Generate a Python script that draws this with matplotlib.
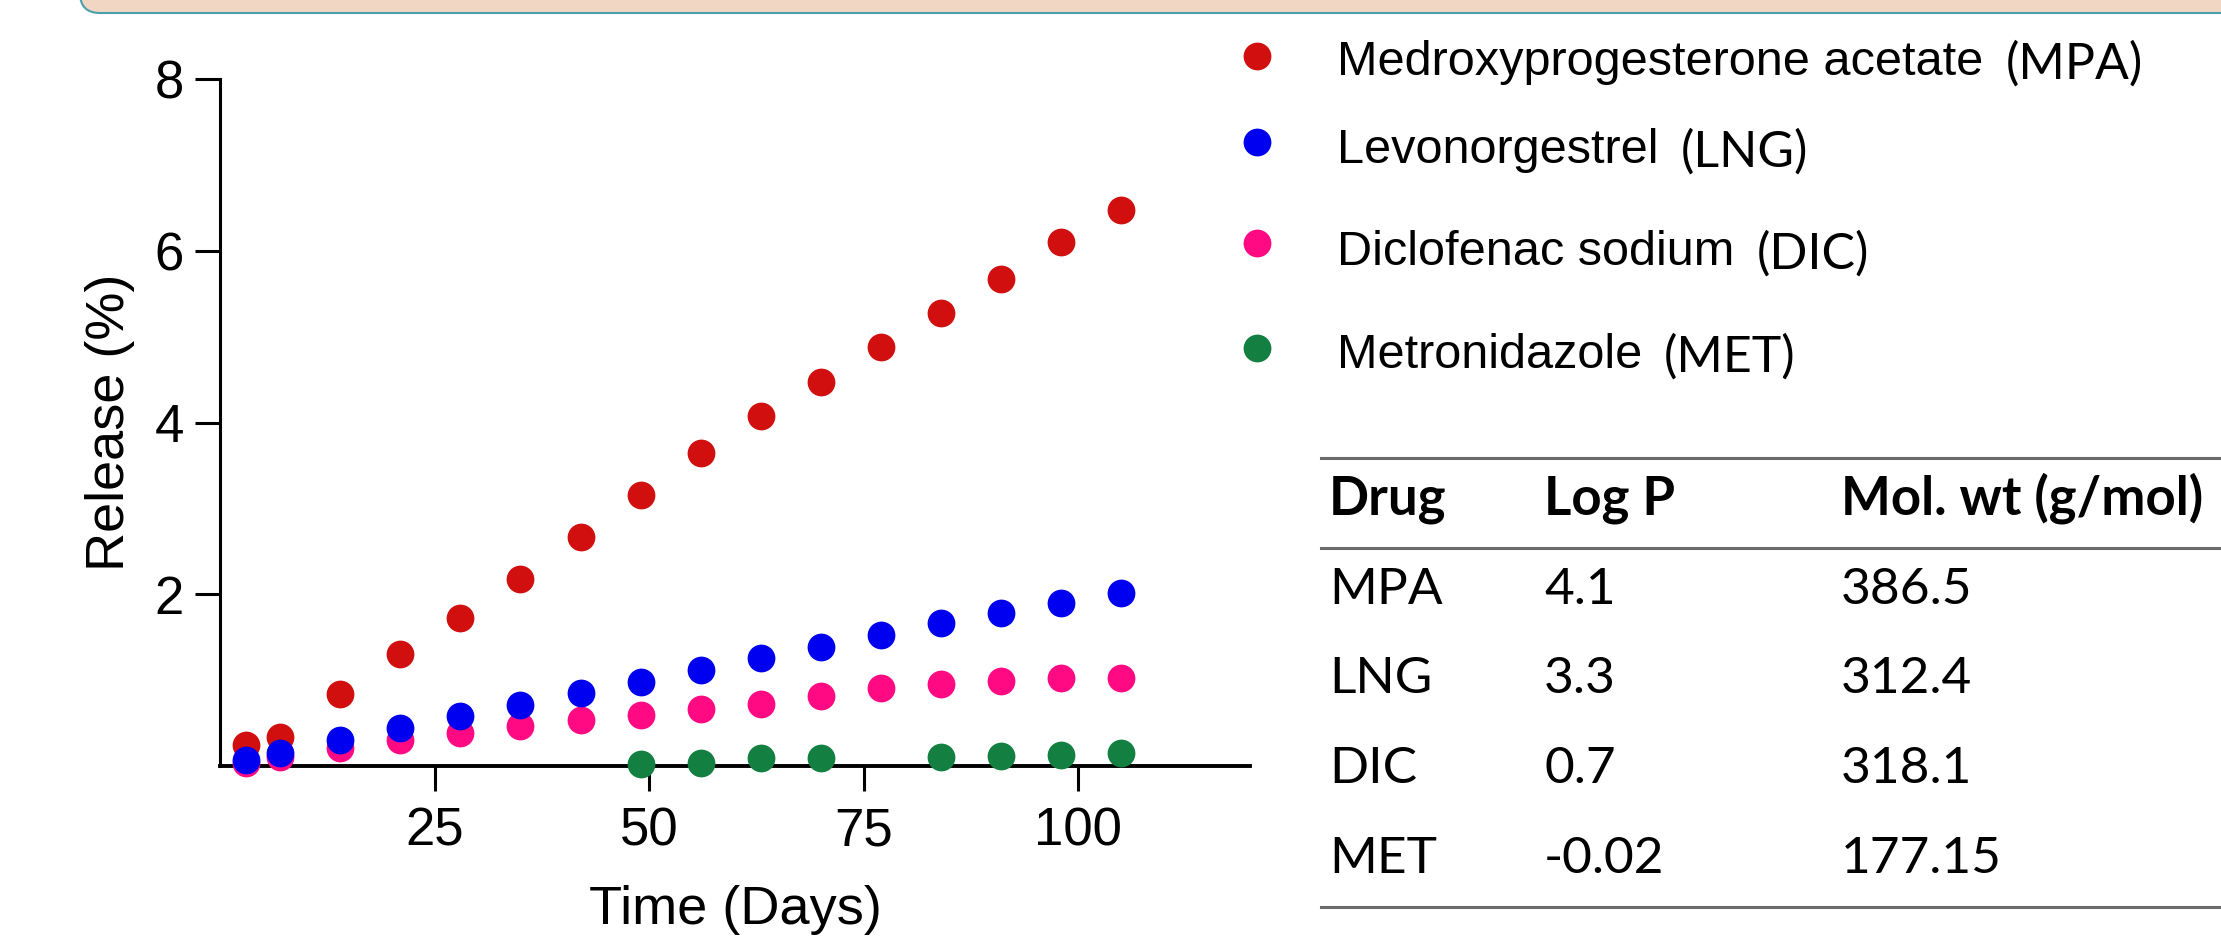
import numpy as np
import matplotlib.pyplot as plt
from matplotlib.lines import Line2D
from matplotlib.patches import FancyBboxPatch
from matplotlib.transforms import IdentityTransform

plt.rcParams['font.family'] = ['Liberation Sans', 'DejaVu Sans']

# release data (% released vs day)
days = [3, 7, 14, 21, 28, 35, 42, 49, 56, 63, 70, 77, 84, 91, 98, 105]
mpa = [0.25, 0.34, 0.84, 1.31, 1.72, 2.18, 2.67, 3.15, 3.65, 4.07, 4.47, 4.88, 5.28, 5.67, 6.10, 6.48]
lng = [0.07, 0.15, 0.30, 0.44, 0.58, 0.71, 0.85, 0.98, 1.12, 1.26, 1.39, 1.53, 1.66, 1.78, 1.90, 2.01]
dic = [0.03, 0.10, 0.21, 0.30, 0.38, 0.46, 0.53, 0.59, 0.66, 0.72, 0.82, 0.91, 0.96, 0.99, 1.03, 1.03]
nan = np.nan
met = [nan, nan, nan, nan, nan, nan, nan, 0.02, 0.04, 0.09, 0.09, nan, 0.11, 0.12, 0.13, 0.15]

drug_names = ["Medroxyprogesterone acetate", "Levonorgestrel", "Diclofenac sodium", "Metronidazole"]
drug_abbr = ["MPA", "LNG", "DIC", "MET"]
drug_colors = ["#D20F0F", "#0000F0", "#FF0A82", "#138042"]

# table
table_header = ["Drug", "Log P", "Mol. wt (g/mol)"]
log_p = ["4.1", "3.3", "0.7", "-0.02"]
mol_wt = ["386.5", "312.4", "318.1", "177.15"]

W, H = 2221, 952
fig = plt.figure(figsize=(W / 100, H / 100), dpi=100)

# banner strip at the top
banner = FancyBboxPatch((80, H - 13), 2400, 200, boxstyle="round,pad=0,rounding_size=20",
                        transform=IdentityTransform(), facecolor="#F1D6C4",
                        edgecolor="#4AA0AA", linewidth=1.5)
fig.add_artist(banner)

ax = fig.add_axes([220 / W, 1 - 766 / H, 1030 / W, 687 / H])
series = {"MPA": mpa, "DIC": dic, "LNG": lng, "MET": met}
for abbr in ["MPA", "DIC", "LNG", "MET"]:
    c = drug_colors[drug_abbr.index(abbr)]
    ax.plot(days, series[abbr], 'o', color=c, markersize=20, markeredgewidth=0,
            clip_on=False, zorder=5)

ax.set_xlim(0, 120)
ax.set_ylim(0, 8)
ax.set_xticks([25, 50, 75, 100])
ax.set_yticks([2, 4, 6, 8])
for s in ["top", "right"]:
    ax.spines[s].set_visible(False)
ax.spines["left"].set_linewidth(2.2)
ax.spines["bottom"].set_linewidth(2.8)
ax.tick_params(axis='both', length=18, width=2.2, labelsize=38, direction='out')
ax.tick_params(axis='y', pad=8)
ax.tick_params(axis='x', pad=11)
ax.set_xlabel("Time (Days)", fontsize=39, labelpad=21)
ax.set_ylabel("Release (%)", fontsize=39, labelpad=14)

# legend drawn by hand (row positions in pixels from top)
legend_marker_y = [56, 142, 243, 348]
legend_base_y = [75, 163, 265, 368]
name_texts = []
for i, name in enumerate(drug_names):
    fig.add_artist(Line2D([1257 / W], [1 - legend_marker_y[i] / H], marker='o', markersize=20,
                          markeredgewidth=0, color=drug_colors[i], transform=fig.transFigure))
    t = fig.text(1337 / W, 1 - legend_base_y[i] / H, name, fontsize=35, va='baseline')
    name_texts.append(t)

fig.canvas.draw()
r = fig.canvas.get_renderer()
for i, t in enumerate(name_texts):
    bb = t.get_window_extent(r)
    fig.text((bb.x1 + 22) / W, 1 - (legend_base_y[i] + 4) / H, "(%s)" % drug_abbr[i],
             fontsize=36, family=['Lato', 'DejaVu Sans'], va='baseline')

# table
col_x = [1329, 1544, 1841]
row_base = [515, 604, 693, 783, 873]
for j, h in enumerate(table_header):
    fig.text(col_x[j] / W, 1 - row_base[0] / H, h, fontsize=38, fontweight='bold',
             family=['Lato', 'DejaVu Sans'], va='baseline')
for i in range(len(drug_abbr)):
    for j, val in enumerate([drug_abbr[i], log_p[i], mol_wt[i]]):
        fig.text(col_x[j] / W, 1 - row_base[i + 1] / H, val, fontsize=37,
                 family=['Lato', 'DejaVu Sans'], va='baseline')
for ly in [458, 548, 907]:
    fig.add_artist(Line2D([1321 / W, 1.0], [1 - ly / H, 1 - ly / H], color="#6A6A6A",
                          linewidth=2.2, transform=fig.transFigure))

fig.savefig("out.png", dpi=100)
